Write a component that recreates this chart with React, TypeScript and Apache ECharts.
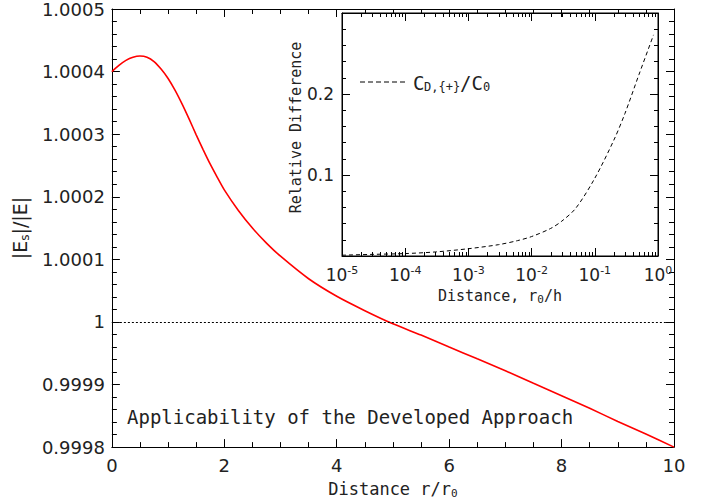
import React, { useEffect, useRef } from "react";
import * as echarts from "echarts";

// Main panel: |Es|/|E| versus distance r/r0
const distance = [
  0, 0.125, 0.25, 0.375, 0.5, 0.625, 0.75, 0.875, 1, 1.125, 1.25, 1.375, 1.5, 1.625, 1.75, 1.875, 2,
  2.25, 2.5, 2.75, 3, 3.5, 4, 4.5, 5, 5.5, 6, 6.5, 7, 7.5, 8, 8.5, 9, 9.5, 10,
];
const fieldRatio = [
  1.0004, 1.00041, 1.000418, 1.000423, 1.000425, 1.000423, 1.000416, 1.000404, 1.000389, 1.00037,
  1.000348, 1.000324, 1.000299, 1.000275, 1.000252, 1.000231, 1.000211,
  1.000178, 1.00015, 1.000126, 1.000105, 1.000069, 1.000041, 1.000018, 0.999997, 0.999979, 0.99996,
  0.999941, 0.999922, 0.999902, 0.999882, 0.999862, 0.999841, 0.999821, 0.9998,
];
const mainXTicks = { min: 0, max: 10, interval: 2 };
const mainYTicks = { min: 0.9998, max: 1.0005, interval: 0.0001 };
const referenceLevel = 1;

// Inset: relative difference versus r0/h (log scale)
const ratioH = [1e-5, 3e-5, 1e-4, 3e-4, 1e-3, 3e-3, 6e-3, 1e-2, 2e-2, 3e-2, 5e-2, 1e-1, 2e-1, 3e-1, 5e-1, 0.85];
const relDiff = [0.001, 0.002, 0.003, 0.005, 0.009, 0.014, 0.019, 0.024, 0.034, 0.043, 0.059, 0.096, 0.143, 0.176, 0.224, 0.273];
const insetXRange = { min: 1e-5, max: 1 };
const insetYTicks = { min: 0, max: 0.3, interval: 0.1 };

const seriesMainName = "|Es|/|E|";
const seriesInsetName = "CD,{+}/C0";
const annotation = "Applicability of the Developed Approach";

const MONO = "DejaVu Sans Mono";
const SANS = "DejaVu Sans";
const TXT = "#222";
const LINE = "#000";

// minor tick positions of the log axis (2..9 in every decade)
const insetXMinor: number[] = [];
for (let d = -5; d < 0; d++) {
  for (let m = 2; m <= 9; m++) insetXMinor.push(parseFloat((m * Math.pow(10, d)).toPrecision(3)));
}

export default function App() {
  const ref = useRef<HTMLDivElement>(null);
  useEffect(() => {
    if (!ref.current) return;
    const chart = echarts.init(ref.current, undefined, { renderer: "svg" });
    const mkLine = () => ({ show: true, onZero: false, lineStyle: { color: LINE, width: 1 } });
    const mkTick = (len: number) => ({ show: true, inside: true, length: len, lineStyle: { color: LINE, width: 1 } });
    const mkMinor = (n: number, len: number) => ({ show: true, splitNumber: n, length: len, lineStyle: { color: LINE, width: 1 } });
    const subRich = {
      sub: { fontFamily: MONO, fontSize: 11, lineHeight: 11, verticalAlign: "bottom", color: TXT },
    };

    const mainX = (position: string, show: boolean) => ({
      type: "value",
      gridIndex: 0,
      position,
      ...mainXTicks,
      axisLine: mkLine(),
      axisTick: mkTick(8),
      minorTick: mkMinor(4, 5),
      splitLine: { show: false },
      axisLabel: { show, fontFamily: SANS, fontSize: 18, color: TXT, margin: 9 },
      name: show ? "Distance r/r{sub|0}" : "",
      nameLocation: "middle",
      nameGap: 30,
      nameTextStyle: { fontFamily: MONO, fontSize: 17, color: TXT, lineHeight: 20, rich: subRich },
    });
    const mainY = (position: string, show: boolean) => ({
      type: "value",
      gridIndex: 0,
      position,
      ...mainYTicks,
      axisLine: mkLine(),
      axisTick: mkTick(8),
      minorTick: mkMinor(5, 5),
      splitLine: { show: false },
      axisLabel: {
        show,
        fontFamily: SANS,
        fontSize: 18,
        color: TXT,
        margin: 7,
        formatter: (v: number) => String(parseFloat(v.toFixed(4))),
      },
      name: show ? "|E{s|s}|/|E|" : "",
      nameLocation: "middle",
      nameRotate: 90,
      nameGap: 73,
      nameTextStyle: {
        fontFamily: SANS,
        fontSize: 19,
        color: TXT,
        lineHeight: 23,
        rich: { s: { fontFamily: SANS, fontSize: 12, lineHeight: 12, verticalAlign: "bottom", color: TXT } },
      },
    });
    const insetX = (position: string, show: boolean) => ({
      type: "log",
      logBase: 10,
      gridIndex: 1,
      position,
      ...insetXRange,
      splitNumber: 5,
      axisLine: mkLine(),
      axisTick: mkTick(8),
      splitLine: { show: false },
      axisLabel: {
        show,
        margin: 9,
        fontFamily: SANS,
        fontSize: 17,
        color: TXT,
        formatter: (v: number) => `{b|10}{p|${Math.round(Math.log10(v))}}`,
        rich: {
          b: { fontFamily: SANS, fontSize: 17, lineHeight: 20, color: TXT },
          p: { fontFamily: SANS, fontSize: 11, lineHeight: 11, verticalAlign: "top", color: TXT },
        },
      },
      name: show ? "Distance, r{sub|0}/h" : "",
      nameLocation: "middle",
      nameGap: 31,
      nameTextStyle: { fontFamily: MONO, fontSize: 15, color: TXT, lineHeight: 18, rich: subRich },
    });
    const insetY = (position: string, show: boolean) => ({
      type: "value",
      gridIndex: 1,
      position,
      ...insetYTicks,
      axisLine: mkLine(),
      axisTick: mkTick(8),
      minorTick: mkMinor(5, 4),
      splitLine: { show: false },
      axisLabel: {
        show,
        fontFamily: SANS,
        fontSize: 17,
        color: TXT,
        margin: 8,
        formatter: (v: number) => (v > 0.05 && v < 0.25 ? String(parseFloat(v.toFixed(1))) : ""),
      },
      name: show ? "Relative Difference" : "",
      nameLocation: "middle",
      nameRotate: 90,
      nameGap: 36,
      nameTextStyle: { fontFamily: MONO, fontSize: 15, color: TXT, padding: [0, 0, 0, 14] },
    });

    chart.setOption({
      animation: false,
      backgroundColor: "#fff",
      grid: [
        { left: 108, top: 6, right: 42, bottom: 55, show: false },
        { left: 342, top: 13, right: 58, bottom: 248, show: true, backgroundColor: "#fff", borderColor: LINE, borderWidth: 1 },
      ],
      xAxis: [mainX("bottom", true), mainX("top", false), insetX("bottom", true), insetX("top", false)],
      yAxis: [mainY("left", true), mainY("right", false), insetY("left", true), insetY("right", false)],
      series: [
        {
          name: seriesMainName,
          type: "line",
          xAxisIndex: 0,
          yAxisIndex: 0,
          data: distance.map((d, i) => [d, fieldRatio[i]]),
          smooth: 0.25,
          symbol: "none",
          lineStyle: { color: "#ff0000", width: 1.6 },
          markLine: {
            silent: true,
            symbol: "none",
            label: { show: false },
            lineStyle: { color: LINE, width: 1, type: [2, 2] },
            data: [{ yAxis: referenceLevel }],
          },
        },
        {
          name: seriesInsetName,
          type: "line",
          xAxisIndex: 2,
          yAxisIndex: 2,
          data: ratioH.map((x, i) => [x, relDiff[i]]),
          smooth: 0.3,
          symbol: "none",
          lineStyle: { color: LINE, width: 1, type: [4, 3] },
        },
        {
          type: "custom",
          xAxisIndex: 2,
          yAxisIndex: 2,
          silent: true,
          z: 10,
          data: insetXMinor.map((x) => [x, 0.15]),
          renderItem: (_p: any, api: any) => {
            const x = api.value(0);
            const b = api.coord([x, insetYTicks.min]);
            const t = api.coord([x, insetYTicks.max]);
            const px = Math.round(b[0]) + 0.5;
            return {
              type: "group",
              children: [
                { type: "line", shape: { x1: px, y1: b[1], x2: px, y2: b[1] - 4 }, style: { stroke: LINE, lineWidth: 1 } },
                { type: "line", shape: { x1: px, y1: t[1], x2: px, y2: t[1] + 4 }, style: { stroke: LINE, lineWidth: 1 } },
              ],
            };
          },
        },
      ],
      graphic: [
        {
          type: "text",
          x: 127,
          y: 417,
          style: { text: annotation, fontFamily: MONO, fontSize: 19, fill: TXT, verticalAlign: "middle" },
        },
        {
          type: "line",
          shape: { x1: 360, y1: 82, x2: 405, y2: 82 },
          style: { stroke: LINE, lineWidth: 1, lineDash: [5, 3] },
        },
        { type: "text", x: 413, y: 83, style: { text: "C", fontFamily: MONO, fontSize: 19, fill: TXT, verticalAlign: "middle" } },
        { type: "text", x: 424, y: 87, style: { text: "D,{+}", fontFamily: MONO, fontSize: 12, fill: TXT, verticalAlign: "middle" } },
        { type: "text", x: 460, y: 83, style: { text: "/C", fontFamily: MONO, fontSize: 19, fill: TXT, verticalAlign: "middle" } },
        { type: "text", x: 483, y: 87, style: { text: "0", fontFamily: MONO, fontSize: 12, fill: TXT, verticalAlign: "middle" } },
      ],
    });
    return () => chart.dispose();
  }, []);
  return <div ref={ref} style={{ position: "fixed", left: 0, top: 0, width: 716, height: 504 }} />;
}
